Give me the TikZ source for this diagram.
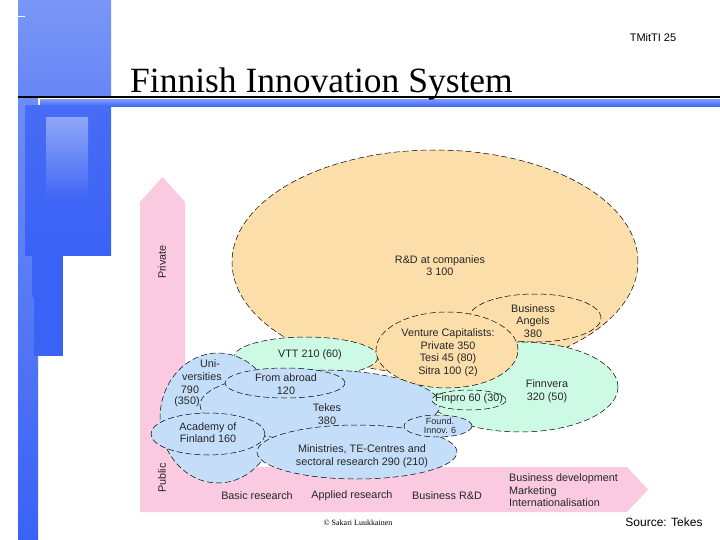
\documentclass[tikz,border=0pt]{standalone}
\usepackage{fontspec}
\setmainfont{Liberation Serif}
\setsansfont{Liberation Sans}
\usetikzlibrary{shapes.geometric}
\definecolor{blueA}{RGB}{58,98,245}
\definecolor{blueL}{RGB}{122,150,246}
\definecolor{pinkB}{RGB}{250,202,224}
\definecolor{peach}{RGB}{252,222,170}
\definecolor{mint}{RGB}{204,250,228}
\definecolor{skyb}{RGB}{196,222,250}
\tikzset{
  blob/.style={ellipse, draw=black, line width=0.5pt, dash pattern=on 6pt off 3pt, inner sep=0pt},
  lbl/.style={font=\fontsize{10.8}{12.5}\selectfont\sffamily, text=black!85, align=center, inner sep=0pt},
  sml/.style={font=\fontsize{9}{9}\selectfont\sffamily, text=black!85, align=center, inner sep=0pt}
}
\begin{document}
\begin{tikzpicture}[x=1pt,y=-1pt]
\useasboundingbox (0,0) rectangle (720,540);
\fill[white] (0,0) rectangle (720,540);
% left decoration
\shade[top color=blueL, bottom color=blueA] (18,0) rectangle (38,540);
\shade[top color=blueL, bottom color=blueL!70!blueA] (18,0) rectangle (111,97);
\shade[top color=blueA!80!blueL, bottom color=blueA] (25,106) rectangle (111,255);
\shade[top color=blueL!85!white, bottom color=blueA] (46,118) rectangle (88,205);
\fill[blueA] (32,255) rectangle (63,297);
\fill[blueA] (34,297) rectangle (63,356);
\shade[top color=blueL, bottom color=blueA] (40,100) rectangle (720,107);
\draw[line width=1.6pt, black] (18,97) -- (720,97);
\draw[white, line width=0.8pt] (18,16) -- (25,16);
% title
\node[anchor=base west, inner sep=0pt, font=\fontsize{35.5}{35.5}\selectfont] (title) at (130,93) {Finnish Innovation System};
\node[anchor=center, inner sep=0pt, font=\fontsize{11}{11}\selectfont\sffamily] (pg) at (653,38) {TMitTI 25};
% pink arrows
\fill[pinkB] (140,512) -- (140,202) -- (162.5,177) -- (185,202) -- (185,467) -- (627,467) -- (648,489.5) -- (627,512) -- cycle;
\node[lbl, rotate=90] (priv) at (162,262) {Private};
\node[lbl, rotate=90] (pub) at (162,478) {Public};
\node[lbl] (basic) at (257,496) {Basic research};
\node[lbl] (appl) at (352,496) {Applied research};
\node[lbl] (brd) at (447,496) {Business R\&D};
\node[lbl, align=left, anchor=west] (bdev) at (509,490.5) {Business development\\Marketing\\Internationalisation};
% ellipses
\node[blob, fill=peach, minimum width=406pt, minimum height=224pt] (rd) at (435,262) {};
\node[blob, fill=peach, minimum width=132pt, minimum height=48pt] (ba) at (535,318) {};
\node[blob, fill=mint, minimum width=196pt, minimum height=90pt] (fv) at (520,387) {};
\node[blob, fill=mint, minimum width=144pt, minimum height=40pt] (vtt) at (306,357) {};
\node[blob, fill=skyb, minimum width=116pt, minimum height=130pt] (uni) at (218,418) {};
\node[blob, fill=skyb, minimum width=240pt, minimum height=70pt] (tekes) at (320,405) {};
\node[blob, fill=peach, minimum width=142pt, minimum height=76pt] (vc) at (447,350) {};
\node[blob, fill=skyb, minimum width=120pt, minimum height=30pt] (abroad) at (285,383) {};
\node[blob, fill=skyb, minimum width=114pt, minimum height=42pt] (acad) at (208,434) {};
\node[blob, fill=skyb, minimum width=200pt, minimum height=54pt] (min) at (357,452) {};
\node[blob, fill=skyb, minimum width=68pt, minimum height=22pt] (found) at (438,426) {};
\node[blob, fill=mint, minimum width=74pt, minimum height=20pt] (finpro) at (469,400) {};
% labels
\node[lbl] (trd) at (440,265.5) {R\&D at companies\\3 100};
\node[lbl] (tba) at (533,321) {Business\\Angels\\380};
\node[lbl] (tvc) at (448,352.5) {Venture Capitalists:\\Private 350\\Tesi 45 (80)\\Sitra 100 (2)};
\node[lbl] (tfv) at (547,391) {Finnvera\\320 (50)};
\node[lbl] (tvtt) at (310,355) {VTT 210 (60)};
\node[lbl] (tu1) at (210,364) {Uni-};
\node[lbl] (tu2) at (202,377) {versities};
\node[lbl] (tu3) at (190,390) {790};
\node[lbl] (tu4) at (187,402) {(350)};
\node[lbl] (tab) at (286,384) {From abroad\\120};
\node[lbl] (ttk) at (327,414) {Tekes\\380};
\node[lbl] (tac) at (208,432.5) {Academy of\\Finland 160};
\node[lbl] (tmin) at (362,456) {Ministries, TE-Centres and\\sectoral research 290 (210)};
\node[sml] (tfo) at (440,426) {Found.\\Innov. 6};
\node[lbl] (tfp) at (469,399) {Finpro 60 (30)};
% footer
\node[inner sep=0pt, font=\fontsize{8}{8}\selectfont] (copy) at (358,523) {\textcopyright{} Sakari Luukkainen};
\node[inner sep=0pt, font=\fontsize{12}{12}\selectfont\sffamily] (src) at (664,522) {Source: Tekes};
\end{tikzpicture}
\end{document}
